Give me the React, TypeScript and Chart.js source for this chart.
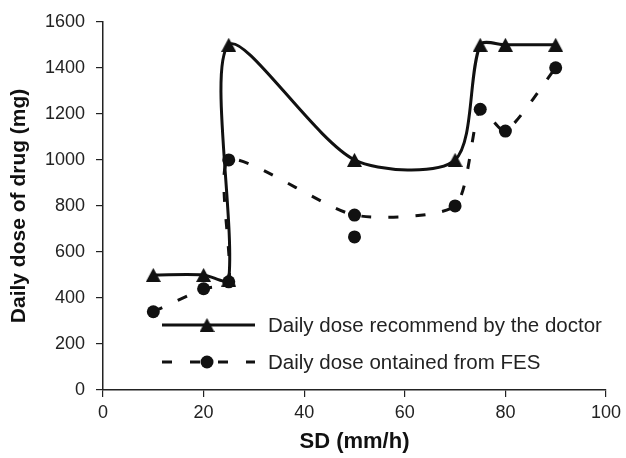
import React, { useEffect, useRef } from "react";
import { Chart, registerables } from "chart.js";

Chart.register(...registerables);

// ---- data ----
const doctorX = [10, 20, 25, 25, 50, 70, 75, 80, 90];
const doctorY = [500, 500, 480, 1500, 1000, 1000, 1500, 1500, 1500];
const fesX = [10, 20, 25, 25, 50, 70, 75, 80, 90];
const fesY = [340, 440, 470, 1000, 760, 800, 1220, 1125, 1400];
const fesExtraX = [50];
const fesExtraY = [665];
const xTicks = [0, 20, 40, 60, 80, 100];
const yTicks = [0, 200, 400, 600, 800, 1000, 1200, 1400, 1600];
const seriesLabels = [
  "Daily dose recommend by the doctor",
  "Daily dose ontained from FES",
];
const xTitle = "SD (mm/h)";
const yTitle = "Daily dose of drug (mg)";

const FONT = '"Liberation Sans", Arial, Helvetica, sans-serif';
const INK = "#111111";
const AXIS = "#222222";

function makeTriangle(): HTMLCanvasElement {
  const c = document.createElement("canvas");
  c.width = 15;
  c.height = 14;
  const g = c.getContext("2d")!;
  g.fillStyle = INK;
  g.beginPath();
  g.moveTo(7.5, 0);
  g.lineTo(15, 14);
  g.lineTo(0, 14);
  g.closePath();
  g.fill();
  return c;
}

const legendPlugin = {
  id: "customLegend",
  afterDraw(chart: any) {
    const ctx = chart.ctx as CanvasRenderingContext2D;
    const tri = (chart as any)._triImg as HTMLCanvasElement;
    const x0 = 162;
    const x1 = 255;
    const xm = 207;
    const tx = 268;
    const rows = [325, 362];
    ctx.save();
    ctx.strokeStyle = INK;
    ctx.lineWidth = 3;
    ctx.lineCap = "butt";
    ctx.setLineDash([]);
    ctx.beginPath();
    ctx.moveTo(x0, rows[0]);
    ctx.lineTo(x1, rows[0]);
    ctx.stroke();
    if (tri) ctx.drawImage(tri, xm - tri.width / 2, rows[0] - tri.height / 2);
    ctx.setLineDash([10, 18]);
    ctx.beginPath();
    ctx.moveTo(x0, rows[1]);
    ctx.lineTo(x1, rows[1]);
    ctx.stroke();
    ctx.setLineDash([]);
    ctx.fillStyle = INK;
    ctx.beginPath();
    ctx.arc(xm, rows[1], 6.5, 0, Math.PI * 2);
    ctx.fill();
    ctx.fillStyle = AXIS;
    ctx.font = `20.5px ${FONT}`;
    ctx.textBaseline = "alphabetic";
    ctx.textAlign = "left";
    ctx.fillText(seriesLabels[0], tx, rows[0] + 6.5);
    ctx.fillText(seriesLabels[1], tx, rows[1] + 6.5);
    ctx.restore();
  },
};

export default function App() {
  const ref = useRef<HTMLCanvasElement | null>(null);

  useEffect(() => {
    if (!ref.current) return;
    const tri = makeTriangle();
    const doctorData = doctorX.map((x, i) => ({ x, y: doctorY[i] }));
    const fesData = fesX.map((x, i) => ({ x, y: fesY[i] }));
    const extraData = fesExtraX.map((x, i) => ({ x, y: fesExtraY[i] }));

    const chart = new Chart(ref.current, {
      type: "scatter",
      data: {
        datasets: [
          {
            label: seriesLabels[1],
            data: fesData,
            showLine: true,
            borderColor: INK,
            backgroundColor: INK,
            borderWidth: 3,
            borderDash: [10, 17],
            borderCapStyle: "butt",
            tension: 0.22,
            pointStyle: "circle",
            pointRadius: 6.5,
            pointBorderWidth: 0,
            pointBackgroundColor: INK,
            order: 0,
          },
          {
            label: "extra",
            data: extraData,
            showLine: false,
            pointStyle: "circle",
            pointRadius: 6.5,
            pointBorderWidth: 0,
            pointBackgroundColor: INK,
            borderColor: INK,
            order: 1,
          },
          {
            label: seriesLabels[0],
            data: doctorData,
            showLine: true,
            borderColor: INK,
            backgroundColor: INK,
            borderWidth: 3,
            borderJoinStyle: "round",
            tension: 0.28,
            pointStyle: tri as any,
            pointRadius: 8,
            order: 2,
          },
        ],
      } as any,
      options: {
        responsive: false,
        animation: false,
        events: [],
        layout: { padding: { top: 15, right: 17, left: 0, bottom: 0 } },
        plugins: {
          legend: { display: false },
          tooltip: { enabled: false },
        },
        scales: {
          x: {
            type: "linear",
            min: 0,
            max: 100,
            afterBuildTicks: (s: any) => {
              s.ticks = xTicks.map((v) => ({ value: v }));
            },
            afterFit: (s: any) => {
              s.height = 68;
            },
            grid: {
              drawOnChartArea: false,
              drawTicks: true,
              tickLength: 7,
              color: AXIS,
              lineWidth: 1.2,
            },
            border: { display: true, color: AXIS, width: 1.5 },
            ticks: {
              color: AXIS,
              font: { family: FONT, size: 18 },
              padding: 5,
              maxRotation: 0,
              callback: (v: any) => String(v),
            },
            title: {
              display: true,
              text: xTitle,
              color: INK,
              font: { family: FONT, size: 22, weight: "bold" },
              padding: { top: 0, bottom: 3 },
            },
          },
          y: {
            type: "linear",
            min: 0,
            max: 1600,
            afterBuildTicks: (s: any) => {
              s.ticks = yTicks.map((v) => ({ value: v }));
            },
            afterFit: (s: any) => {
              s.width = 103;
            },
            grid: {
              drawOnChartArea: false,
              drawTicks: true,
              tickLength: 7,
              color: AXIS,
              lineWidth: 1.2,
            },
            border: { display: true, color: AXIS, width: 1.5 },
            ticks: {
              color: AXIS,
              font: { family: FONT, size: 18 },
              padding: 11,
              callback: (v: any) => String(v),
            },
            title: {
              display: true,
              text: yTitle,
              color: INK,
              font: { family: FONT, size: 21, weight: "bold" },
              padding: { top: 7, bottom: 0 },
            },
          },
        },
      } as any,
      plugins: [legendPlugin as any],
    });
    (chart as any)._triImg = tri;
    chart.draw();

    return () => {
      chart.destroy();
    };
  }, []);

  return (
    <div style={{ position: "absolute", left: 0, top: 0, width: 626, height: 458, background: "#fff" }}>
      <canvas ref={ref} width={626} height={458} style={{ display: "block", width: 626, height: 458 }} />
    </div>
  );
}
